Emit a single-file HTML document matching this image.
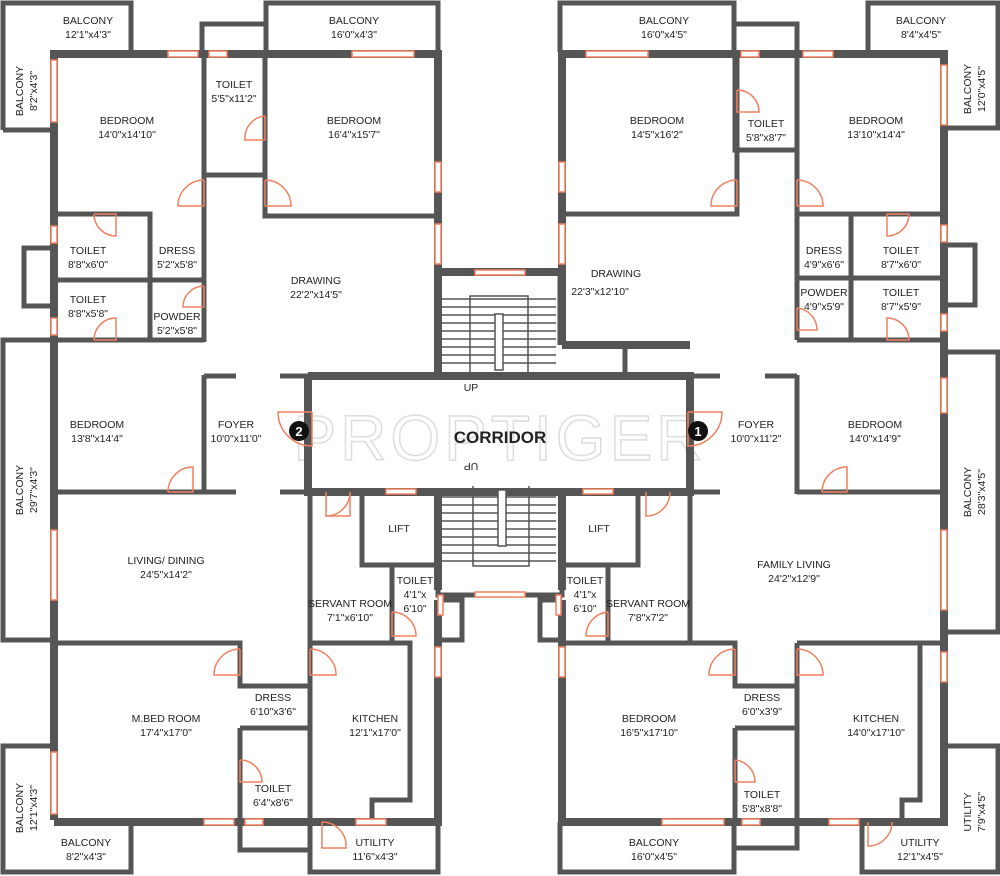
<!DOCTYPE html>
<html><head><meta charset="utf-8"><style>
html,body{margin:0;padding:0;background:#fff}
svg{display:block}
text{font-family:"Liberation Sans",sans-serif;font-size:10.5px;fill:#222;text-anchor:middle}
.w{stroke:#555;fill:none}
.d{stroke:#f2805f;fill:none;stroke-width:1.5}
.win{fill:#fff;stroke:#f2805f;stroke-width:1.5}
</style></head><body>
<svg width="1000" height="876" viewBox="0 0 1000 876" xmlns="http://www.w3.org/2000/svg">
<text x="500" y="460" style="font-size:64px;fill:none;stroke:#ddd;stroke-width:1.5;letter-spacing:4px">PROPTIGER</text>
<g class="w" stroke-width="5">
<path d="M3 130 V3 H131 V52"/>
<path d="M3 130 H54"/>
<path d="M266 52 V3 H438 V52"/>
<path d="M202 52 V24 H266"/>
<path d="M54 248 H24 V306 H54"/>
<path d="M54 340 H3 V640 H54"/>
<path d="M54 746 H3 V872 H131 V822"/>
<path d="M240 822 V850 H310"/>
<path d="M310 822 V872 H438 V822"/>
<path d="M204 52 V175 H265 V52"/>
<path d="M265 175 V216 H437"/>
<path d="M204 175 V342"/>
<path d="M54 214 H150 V342"/>
<path d="M54 280 H204"/>
<path d="M54 340 H204"/>
<path d="M204 375 V494"/>
<path d="M54 492 H236"/>
<path d="M204 376 H236 M280 376 H310"/>
<path d="M280 492 H310"/>
<path d="M54 643 H240 V686 H310"/>
<path d="M240 728 H310 M240 728 V822"/>
<path d="M310 643 V822"/>
<path d="M310 643 H410 V800 H372 V822"/>
<path d="M310 492 V643"/>
<path d="M362 492 V565 H438"/>
<path d="M392 565 V643"/>
<path d="M438 600 H462 V640 H438"/>
<path d="M438 272 V376 M560 272 V345"/>
<path d="M438 490 V595 H562 V490"/>
<path d="M560 52 V3 H734 V52"/>
<path d="M734 24 H797 V52"/>
<path d="M868 52 V3 H998 V128 H946"/>
<path d="M946 245 H975 V305 H946"/>
<path d="M946 352 H998 V632 H946"/>
<path d="M946 746 H998 V872 H862 V822"/>
<path d="M560 822 V872 H734 V822"/>
<path d="M734 822 V848 H797 V822"/>
<path d="M735 52 V150 H797"/>
<path d="M562 214 H737 V52"/>
<path d="M797 52 V340"/>
<path d="M797 214 H944 M851 214 V340 M797 278 H944 M797 340 H944"/>
<path d="M797 375 V494 M797 492 H944"/>
<path d="M690 376 H720 M765 376 H797"/>
<path d="M690 492 H720"/>
<path d="M562 643 H735 V686 H797 M797 643 H944"/>
<path d="M735 728 H797 M735 728 V822 M797 643 V822"/>
<path d="M920 643 V800 H902 V822"/>
<path d="M690 492 V643"/>
<path d="M562 565 H638 V492"/>
<path d="M608 565 V643"/>
<path d="M562 600 H540 V640 H562"/>
<path d="M625 345 V372"/>
</g>
<g class="w" stroke-width="8">
<path d="M54 820 V54 H438 V376"/>
<path d="M54 822 H438 V643"/>
<path d="M438 272 H560"/>
<path d="M308 376 H690 V492 H308 V376"/>
<path d="M562 345 V54 H944 V822 H562 V600"/>
<path d="M562 345 H690"/>
<path d="M438 492 V590 M562 492 V590"/>
<path d="M438 600 V822"/>
</g>
<g stroke="#555" stroke-width="1.5" fill="none">
<path d="M442 299 H556 M442 307 H556 M442 315 H556 M442 323 H556 M442 331 H556 M442 339 H556 M442 347 H556 M442 355 H556 M442 363 H556"/>
<path d="M442 497 H556 M442 505 H556 M442 513 H556 M442 521 H556 M442 529 H556 M442 537 H556 M442 545 H556 M442 553 H556 M442 561 H556"/>
<rect x="495" y="314" width="8" height="56" fill="#fff"/>
<rect x="498" y="490" width="8" height="56" fill="#fff"/>
<path d="M470 380 V296 H528 V380"/>
<path d="M473 486 V566 H529 V486"/>
</g>
<g class="win">
<rect x="168" y="51" width="30" height="6"/><rect x="209" y="51" width="18" height="6"/><rect x="352" y="51" width="62" height="6"/>
<rect x="51" y="60" width="6" height="62"/><rect x="51" y="226" width="6" height="17"/><rect x="51" y="318" width="6" height="17"/>
<rect x="51" y="530" width="6" height="70"/><rect x="51" y="752" width="6" height="62"/>
<rect x="435" y="162" width="6" height="30"/><rect x="435" y="224" width="6" height="40"/>
<rect x="475" y="270" width="50" height="5"/><rect x="475" y="592" width="50" height="5"/>
<rect x="386" y="489" width="30" height="5"/><rect x="583" y="489" width="30" height="5"/>
<rect x="204" y="819" width="30" height="6"/><rect x="245" y="819" width="18" height="6"/><rect x="356" y="819" width="30" height="6"/>
<rect x="435" y="647" width="6" height="30"/><rect x="438" y="595" width="5" height="20"/><rect x="556" y="595" width="5" height="20"/>
<rect x="586" y="51" width="62" height="6"/><rect x="741" y="51" width="18" height="6"/><rect x="803" y="51" width="30" height="6"/>
<rect x="941" y="65" width="6" height="60"/><rect x="941" y="225" width="6" height="17"/><rect x="941" y="314" width="6" height="17"/>
<rect x="941" y="378" width="6" height="35"/><rect x="941" y="530" width="6" height="80"/><rect x="941" y="652" width="6" height="30"/>
<rect x="559" y="162" width="6" height="30"/><rect x="559" y="224" width="6" height="40"/><rect x="559" y="647" width="6" height="30"/>
<rect x="662" y="819" width="62" height="6"/><rect x="742" y="819" width="18" height="6"/><rect x="829" y="819" width="30" height="6"/>
</g>
<g class="d">
<path d="M204 180 V206 H178 A26 26 0 0 1 204 180"/>
<path d="M265 180 V206 H291 A26 26 0 0 0 265 180"/>
<path d="M265 116 V140 H245 A22 22 0 0 1 265 116"/>
<path d="M94 214 H116 V236 A22 22 0 0 1 94 214"/>
<path d="M94 340 H116 V318 A22 22 0 0 0 94 340"/>
<path d="M204 286 V307 H183 A21 21 0 0 1 204 286"/>
<path d="M168 492 H193 V467 A25 25 0 0 0 168 492"/>
<path d="M240 649 V675 H214 A26 26 0 0 1 240 649"/>
<path d="M310 649 V675 H336 A26 26 0 0 0 310 649"/>
<path d="M240 760 V782 H262 A22 22 0 0 0 240 760"/>
<path d="M322 822 V848 H346 A24 24 0 0 0 322 822"/>
<path d="M326 492 V516 H350 V492"/><path d="M326 516 A24 24 0 0 0 350 492"/>
<path d="M392 612 V636 H416 A24 24 0 0 0 392 612"/>
<path d="M312 412 V446 A34 34 0 0 1 278 412 H312"/>
<path d="M737 90 V112 H759 A22 22 0 0 0 737 90"/>
<path d="M737 180 V206 H711 A26 26 0 0 1 737 180"/>
<path d="M797 180 V206 H823 A26 26 0 0 0 797 180"/>
<path d="M887 214 H909 A22 22 0 0 1 887 236 Z"/>
<path d="M887 340 H909 A22 22 0 0 0 887 318 Z"/>
<path d="M797 308 V330 H817 A22 22 0 0 0 797 308"/>
<path d="M822 492 H847 V467 A25 25 0 0 0 822 492"/>
<path d="M735 649 V675 H709 A26 26 0 0 1 735 649"/>
<path d="M797 649 V675 H823 A26 26 0 0 0 797 649"/>
<path d="M735 760 V782 H755 A22 22 0 0 0 735 760"/>
<path d="M868 822 V846 A24 24 0 0 0 892 822"/>
<path d="M646 492 V516 A24 24 0 0 0 670 492"/>
<path d="M608 612 V636 H586 A24 24 0 0 1 608 612"/>
<path d="M688 412 V446 A34 34 0 0 0 722 412 H688"/>
</g>
<circle cx="299" cy="431" r="10" fill="#111"/><text x="299" y="436" style="fill:#fff;font-weight:bold;font-size:13px">2</text>
<circle cx="698" cy="431" r="10" fill="#111"/><text x="698" y="436" style="fill:#fff;font-weight:bold;font-size:13px">1</text>
<text x="500" y="443" style="font-size:17px;font-weight:bold;fill:#222">CORRIDOR</text>
<text x="471" y="391">UP</text><text x="471" y="471" transform="rotate(180 471 467)">UP</text>
<g>
<text x="88" y="24">BALCONY</text><text x="88" y="38">12'1"x4'3"</text>
<text x="354" y="24">BALCONY</text><text x="354" y="38">16'0"x4'3"</text>
<text x="234" y="88">TOILET</text><text x="234" y="102">5'5"x11'2"</text>
<text x="127" y="124">BEDROOM</text><text x="127" y="138">14'0"x14'10"</text>
<text x="354" y="124">BEDROOM</text><text x="354" y="138">16'4"x15'7"</text>
<text x="88" y="254">TOILET</text><text x="88" y="268">8'8"x6'0"</text>
<text x="177" y="254">DRESS</text><text x="177" y="268">5'2"x5'8"</text>
<text x="88" y="303">TOILET</text><text x="88" y="317">8'8"x5'8"</text>
<text x="177" y="320">POWDER</text><text x="177" y="334">5'2"x5'8"</text>
<text x="316" y="284">DRAWING</text><text x="316" y="298">22'2"x14'5"</text>
<text x="97" y="428">BEDROOM</text><text x="97" y="442">13'8"x14'4"</text>
<text x="236" y="428">FOYER</text><text x="236" y="442">10'0"x11'0"</text>
<text x="166" y="564">LIVING/ DINING</text><text x="166" y="578">24'5"x14'2"</text>
<text x="399" y="532">LIFT</text>
<text x="415" y="584">TOILET</text><text x="415" y="598">4'1"x</text><text x="415" y="612">6'10"</text>
<text x="350" y="607">SERVANT ROOM</text><text x="350" y="621">7'1"x6'10"</text>
<text x="273" y="701">DRESS</text><text x="273" y="715">6'10"x3'6"</text>
<text x="166" y="722">M.BED ROOM</text><text x="166" y="736">17'4"x17'0"</text>
<text x="375" y="722">KITCHEN</text><text x="375" y="736">12'1"x17'0"</text>
<text x="273" y="792">TOILET</text><text x="273" y="806">6'4"x8'6"</text>
<text x="86" y="846">BALCONY</text><text x="86" y="860">8'2"x4'3"</text>
<text x="375" y="846">UTILITY</text><text x="375" y="860">11'6"x4'3"</text>
<text x="664" y="24">BALCONY</text><text x="664" y="38">16'0"x4'5"</text>
<text x="921" y="24">BALCONY</text><text x="921" y="38">8'4"x4'5"</text>
<text x="657" y="124">BEDROOM</text><text x="657" y="138">14'5"x16'2"</text>
<text x="766" y="127">TOILET</text><text x="766" y="141">5'8"x8'7"</text>
<text x="876" y="124">BEDROOM</text><text x="876" y="138">13'10"x14'4"</text>
<text x="616" y="277">DRAWING</text><text x="600" y="295">22'3"x12'10"</text>
<text x="824" y="254">DRESS</text><text x="824" y="268">4'9"x6'6"</text>
<text x="901" y="254">TOILET</text><text x="901" y="268">8'7"x6'0"</text>
<text x="824" y="296">POWDER</text><text x="824" y="310">4'9"x5'9"</text>
<text x="901" y="296">TOILET</text><text x="901" y="310">8'7"x5'9"</text>
<text x="756" y="428">FOYER</text><text x="756" y="442">10'0"x11'2"</text>
<text x="875" y="428">BEDROOM</text><text x="875" y="442">14'0"x14'9"</text>
<text x="599" y="532">LIFT</text>
<text x="585" y="584">TOILET</text><text x="585" y="598">4'1"x</text><text x="585" y="612">6'10"</text>
<text x="648" y="607">SERVANT ROOM</text><text x="648" y="621">7'8"x7'2"</text>
<text x="794" y="568">FAMILY LIVING</text><text x="794" y="582">24'2"x12'9"</text>
<text x="762" y="701">DRESS</text><text x="762" y="715">6'0"x3'9"</text>
<text x="649" y="722">BEDROOM</text><text x="649" y="736">16'5"x17'10"</text>
<text x="876" y="722">KITCHEN</text><text x="876" y="736">14'0"x17'10"</text>
<text x="762" y="798">TOILET</text><text x="762" y="812">5'8"x8'8"</text>
<text x="654" y="846">BALCONY</text><text x="654" y="860">16'0"x4'5"</text>
<text x="920" y="846">UTILITY</text><text x="920" y="860">12'1"x4'5"</text>
<text transform="translate(23 91) rotate(-90)">BALCONY</text><text transform="translate(37 91) rotate(-90)">8'2"x4'3"</text>
<text transform="translate(23 490) rotate(-90)">BALCONY</text><text transform="translate(37 490) rotate(-90)">29'7"x4'3"</text>
<text transform="translate(23 808) rotate(-90)">BALCONY</text><text transform="translate(37 808) rotate(-90)">12'1"x4'3"</text>
<text transform="translate(971 89) rotate(-90)">BALCONY</text><text transform="translate(985 89) rotate(-90)">12'0"x4'5"</text>
<text transform="translate(971 492) rotate(-90)">BALCONY</text><text transform="translate(985 492) rotate(-90)">28'3"x4'5"</text>
<text transform="translate(971 812) rotate(-90)">UTILITY</text><text transform="translate(985 812) rotate(-90)">7'9"x4'5"</text>
</g>
</svg>
</body></html>
